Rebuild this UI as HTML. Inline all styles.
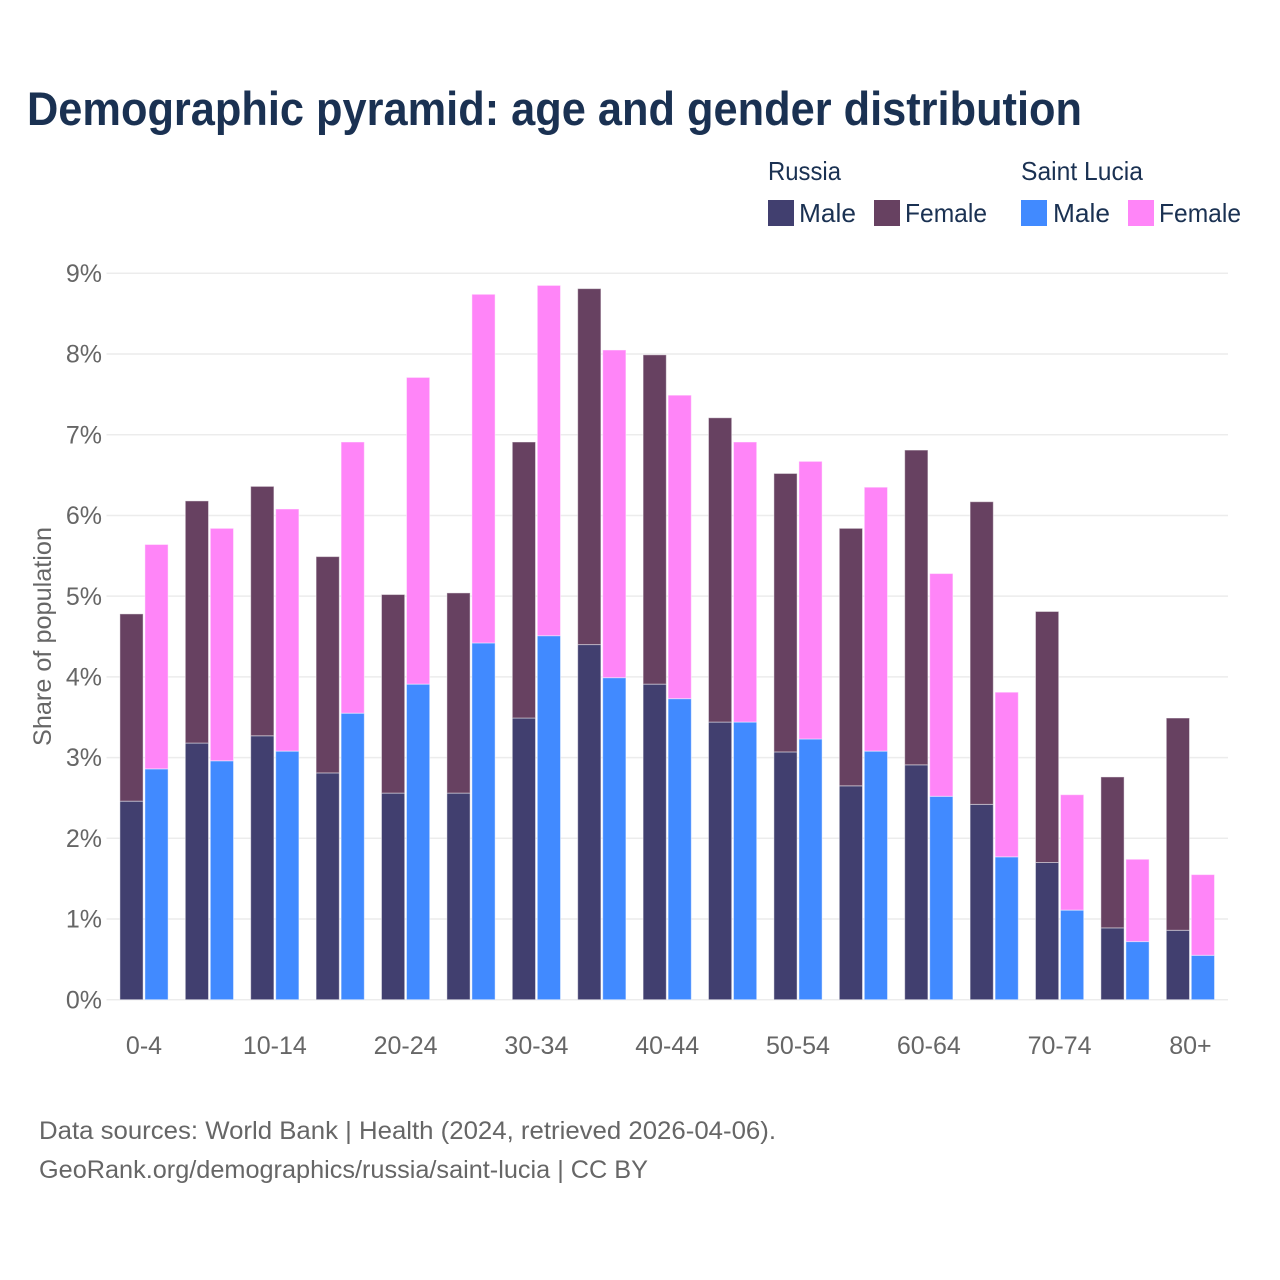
<!DOCTYPE html>
<html lang="en">
<head>
<meta charset="utf-8">
<title>Demographic pyramid: age and gender distribution</title>
<style>
html,body{margin:0;padding:0;background:#fff;width:1280px;height:1280px;overflow:hidden}
svg{display:block}
text{font-family:"Liberation Sans",sans-serif}
.title{font-size:47px;font-weight:700;fill:#1a3152}
.legend{font-size:26px;fill:#1a3152}
.tick{font-size:25px;fill:#666}
.foot{font-size:25px;fill:#666}
</style>
</head>
<body>
<svg id="chart" xmlns="http://www.w3.org/2000/svg" width="1280" height="1280" viewBox="0 0 1280 1280">
  <text class="title" x="27" y="125" textLength="1055" lengthAdjust="spacingAndGlyphs">Demographic pyramid: age and gender distribution</text>

  <g>
    <text class="legend" x="768" y="180" textLength="73" lengthAdjust="spacingAndGlyphs">Russia</text>
    <text class="legend" x="1021" y="180" textLength="122" lengthAdjust="spacingAndGlyphs">Saint Lucia</text>
    <rect x="768" y="200" width="26" height="26" fill="#413f6f"/>
    <text class="legend" x="799" y="222" textLength="57" lengthAdjust="spacingAndGlyphs">Male</text>
    <rect x="874" y="200" width="26" height="26" fill="#674161"/>
    <text class="legend" x="905" y="222" textLength="82" lengthAdjust="spacingAndGlyphs">Female</text>
    <rect x="1021" y="200" width="26" height="26" fill="#418aff"/>
    <text class="legend" x="1053" y="222" textLength="57" lengthAdjust="spacingAndGlyphs">Male</text>
    <rect x="1128" y="200" width="26" height="26" fill="#ff85f8"/>
    <text class="legend" x="1159" y="222" textLength="82" lengthAdjust="spacingAndGlyphs">Female</text>
  </g>

  <g id="grid"></g>
  <g id="bars"></g>
  <g id="yticks"></g>
  <g id="xticks"></g>

  <text class="tick" transform="translate(51,746) rotate(-90)" x="0" y="0" textLength="219" lengthAdjust="spacingAndGlyphs">Share of population</text>

  <text class="foot" x="39" y="1139" textLength="737" lengthAdjust="spacingAndGlyphs">Data sources: World Bank | Health (2024, retrieved 2026-04-06).</text>
  <text class="foot" x="39" y="1178" textLength="609" lengthAdjust="spacingAndGlyphs">GeoRank.org/demographics/russia/saint-lucia | CC BY</text>
</svg>
<script>
const categories = ["0-4","5-9","10-14","15-19","20-24","25-29","30-34","35-39","40-44","45-49","50-54","55-59","60-64","65-69","70-74","75-79","80+"];
const russiaMale = [2.46,3.18,3.27,2.81,2.56,2.56,3.49,4.40,3.91,3.44,3.07,2.65,2.91,2.42,1.70,0.89,0.86];
const russiaFemale = [2.32,3.00,3.09,2.68,2.46,2.48,3.42,4.41,4.08,3.77,3.45,3.19,3.90,3.75,3.11,1.87,2.63];
const luciaMale = [2.86,2.96,3.08,3.55,3.91,4.42,4.51,3.99,3.73,3.44,3.23,3.08,2.52,1.77,1.11,0.72,0.55];
const luciaFemale = [2.78,2.88,3.00,3.36,3.80,4.32,4.34,4.06,3.76,3.47,3.44,3.27,2.76,2.04,1.43,1.02,1.00];
const yTicks = [0,1,2,3,4,5,6,7,8,9];

const NS = "http://www.w3.org/2000/svg";
function xBand(i){ return 144 + i * 65.4; }
function yScale(v){ return 999.7 - v * 80.71; }
const barOffset = 12.5;
const barWidth = 23.2;

function addBar(parent, cx, v0, v1, fill, name){
  const r = document.createElementNS(NS, "rect");
  r.setAttribute("x", cx - barWidth / 2);
  r.setAttribute("y", yScale(v1));
  r.setAttribute("width", barWidth);
  r.setAttribute("height", yScale(v0) - yScale(v1));
  r.setAttribute("fill", fill);
  r.setAttribute("stroke", "#ffffff");
  r.setAttribute("stroke-opacity", "0.45");
  r.setAttribute("stroke-width", "1");
  
  
  parent.appendChild(r);
}

const gridG = document.getElementById("grid");
const yG = document.getElementById("yticks");
yTicks.forEach(function(t){
  const l = document.createElementNS(NS, "line");
  l.setAttribute("x1", 106.5);
  l.setAttribute("x2", 1228);
  l.setAttribute("y1", yScale(t));
  l.setAttribute("y2", yScale(t));
  l.setAttribute("stroke", "#ececec");
  l.setAttribute("stroke-width", "1.5");
  
  
  gridG.appendChild(l);
  const tx = document.createElementNS(NS, "text");
  tx.setAttribute("class", "tick");
  tx.setAttribute("x", 102);
  tx.setAttribute("y", yScale(t) + 8.6);
  tx.setAttribute("text-anchor", "end");
  
  
  tx.textContent = t + "%";
  yG.appendChild(tx);
});

const barsG = document.getElementById("bars");
const xG = document.getElementById("xticks");
categories.forEach(function(c, i){
  const left = xBand(i) - barOffset;
  const right = xBand(i) + barOffset;
  addBar(barsG, left, 0, russiaMale[i], "#413f6f", "bar-russia-male-" + c);
  addBar(barsG, left, russiaMale[i], russiaMale[i] + russiaFemale[i], "#674161", "bar-russia-female-" + c);
  addBar(barsG, right, 0, luciaMale[i], "#418aff", "bar-saint-lucia-male-" + c);
  addBar(barsG, right, luciaMale[i], luciaMale[i] + luciaFemale[i], "#ff85f8", "bar-saint-lucia-female-" + c);
  if (i % 2 === 0) {
    const tx = document.createElementNS(NS, "text");
    tx.setAttribute("class", "tick");
    tx.setAttribute("x", xBand(i));
    tx.setAttribute("y", 1054);
    tx.setAttribute("text-anchor", "middle");
    
    
    tx.textContent = c;
    xG.appendChild(tx);
  }
});
</script>
</body>
</html>
